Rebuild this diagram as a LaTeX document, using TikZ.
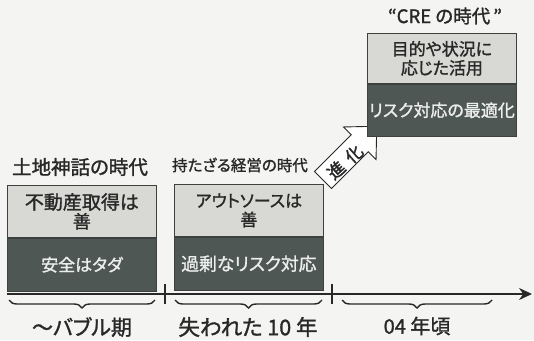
\documentclass[tikz,border=0pt]{standalone}
\usepackage{fontspec}
\setmainfont{Noto Sans CJK JP}[RawFeature=+palt, FakeBold=1.4]
\newfontfamily\jpb{Noto Sans CJK JP}[RawFeature=+palt, FakeBold=2]
\usetikzlibrary{decorations.pathreplacing,arrows.meta}
\definecolor{bgcol}{RGB}{244,244,242}
\definecolor{lightfill}{RGB}{216,216,213}
\definecolor{darkfill}{RGB}{78,87,84}
\definecolor{boxline}{RGB}{60,64,62}
\definecolor{ink}{RGB}{40,40,40}
\definecolor{paleink}{RGB}{236,238,236}
\newcommand{\fsz}[1]{\fontsize{#1}{19}\selectfont}
\tikzset{
  lightbox/.style={draw=boxline, line width=0.8pt, fill=lightfill, minimum width=149pt, minimum height=52pt,
    inner sep=0pt, align=center, text=ink, anchor=north west,
    font=\fontsize{17}{19}\selectfont},
  darkbox/.style={draw=boxline, line width=0.8pt, fill=darkfill, minimum width=149pt, minimum height=53pt,
    inner sep=0pt, align=center, text=paleink, anchor=north west,
    font=\fontsize{17}{19}\selectfont},
  eratitle/.style={text=ink, inner sep=0pt, font=\fontsize{17}{19}\selectfont},
  periodlabel/.style={text=ink, inner sep=0pt, font=\fontsize{20}{21}\selectfont},
  axisline/.style={draw=ink, line width=1.3pt, -{Stealth[length=13pt,width=12pt]}},
  tickline/.style={draw=ink, line width=1.2pt},
  bracemark/.style={draw=ink, line width=1.4pt, decorate,
    decoration={brace, mirror, amplitude=8pt}},
  evoarrow/.style={draw=ink, line width=0.9pt, fill=white, line join=miter}
}
\begin{document}
\begin{tikzpicture}[x=1pt,y=-1pt]
\useasboundingbox (0,0) rectangle (534,340);
\fill[bgcol] (0,0) rectangle (534,340);

% evolution arrow
\begin{scope}[shift={(323,180)}, rotate=45]
  \draw[evoarrow] (0,-12) -- (52,-12) -- (52,-23) -- (76,0) -- (52,23) -- (52,12) -- (0,12) -- cycle;
\end{scope}
\node[rotate=42, text=ink, inner sep=0pt, font=\jpb\fontsize{17}{17}\selectfont] (evo) at (345,162) {進\hspace{7pt}化};

% boxes
\node[lightbox] (b1t) at (7,185) {{\fsz{19}不動産取得は}\\{\fsz{18}善}};
\node[darkbox] (b1d) at (b1t.south west) {安全はタダ};
\node[lightbox] (b2t) at (174,184) {アウトソースは\\善};
\node[darkbox] (b2d) at (b2t.south west) {{\fsz{17.8}過剰なリスク対応}};
\node[lightbox, minimum height=50pt] (b3t) at (367,33) {目的や状況に\\応じた活用};
\node[darkbox, minimum height=52pt] (b3d) at (b3t.south west) {リスク対応の最適化};

% titles
\node[eratitle, font=\fontsize{19.5}{21}\selectfont] (t1) at (80,167) {土地神話の時代};
\node[eratitle, font=\fontsize{15.5}{17}\selectfont] (t2) at (240,165) {持たざる経営の時代};
\node[eratitle, font=\fontsize{18.5}{20}\selectfont] (t3) at (445,16) {“CRE の時代\,”};

% axis
\coordinate (axs) at (7,294);
\coordinate (axe) at (532,294);
\draw[axisline] (axs) -- (axe);
\coordinate (k1a) at (165,284);
\coordinate (k1b) at (165,304);
\coordinate (k2a) at (332,284);
\coordinate (k2b) at (332,304);
\draw[tickline] (k1a) -- (k1b);
\draw[tickline] (k2a) -- (k2b);

% braces
\coordinate (r1a) at (9,300);
\coordinate (r1b) at (155,300);
\coordinate (r2a) at (175,300);
\coordinate (r2b) at (322,300);
\coordinate (r3a) at (342,300);
\coordinate (r3b) at (492,300);
\draw[bracemark] (r1a) -- (r1b);
\draw[bracemark] (r2a) -- (r2b);
\draw[bracemark] (r3a) -- (r3b);

% period labels
\node[periodlabel, font=\fontsize{21}{22}\selectfont] (p1) at (82,327) {〜バブル期};
\node[periodlabel, font=\fontsize{21.5}{22}\selectfont] (p2) at (248,327) {失われた 10 年};
\node[periodlabel, font=\fontsize{20}{21}\selectfont] (p3) at (417,326) {04 年頃};
\end{tikzpicture}
\end{document}
